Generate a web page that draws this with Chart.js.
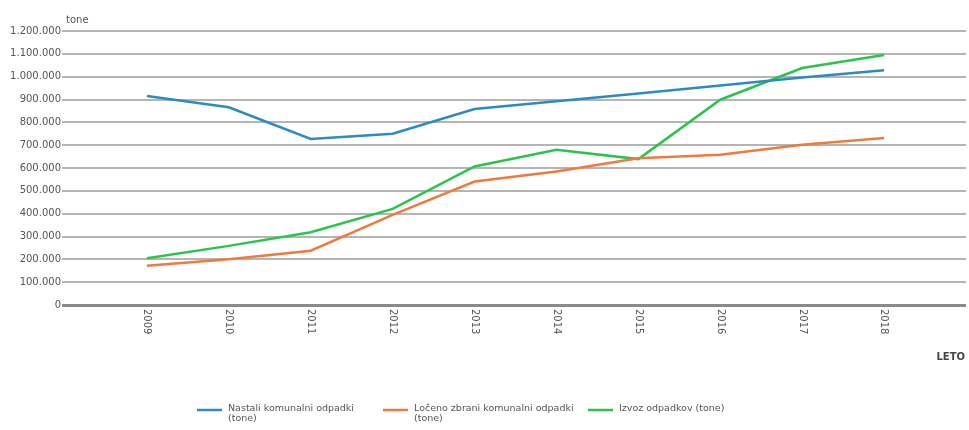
<!DOCTYPE html>
<html>
<head>
<meta charset="utf-8">
<script src="https://cdn.jsdelivr.net/npm/chart.js@4/dist/chart.umd.min.js"></script>
<style>
  html, body { margin: 0; padding: 0; background: #fff; }
  #wrap { width: 969px; height: 430px; }
</style>
</head>
<body>
<div id="wrap"><canvas id="c" width="969" height="430"></canvas></div>
<script>
// Years on the horizontal axis
const years = [2009, 2010, 2011, 2012, 2013, 2014, 2015, 2016, 2017, 2018];

// Municipal waste, tonnes per year
const nastali = [915000, 866000, 727000, 750000, 858000, 892000, 926000, 961000, 996000, 1028000];
const loceno  = [172000, 200000, 238000, 395000, 541000, 585000, 643000, 658000, 702000, 731000];
const izvoz   = [205000, 259000, 319000, 421000, 607000, 680000, 639000, 899000, 1038000, 1095000];

// Legend entries (multi-line)
const seriesNames = [
  ['Nastali komunalni odpadki', '(tone)'],
  ['Ločeno zbrani komunalni odpadki', '(tone)'],
  ['Izvoz odpadkov (tone)']
];
const seriesColors = ['#2b8cc4', '#ee7b3e', '#2cc34c'];

// Axis titles and y ticks
const yTitle = 'tone';
const xTitle = 'LETO';
const yTicks = [0, 100000, 200000, 300000, 400000, 500000, 600000, 700000, 800000, 900000, 1000000, 1100000, 1200000];

const FONT = '"DejaVu Sans", sans-serif';
const TEXT = '#555555';

function fmt(v) {
  return String(v).replace(/\B(?=(\d{3})+(?!\d))/g, '.');
}

const series = [nastali, loceno, izvoz];

const extras = {
  id: 'extras',
  afterDraw(chart) {
    const ctx = chart.ctx;
    const x = chart.scales.x;
    const y = chart.scales.y;
    ctx.save();

    // year labels, rotated to read top-to-bottom
    ctx.fillStyle = TEXT;
    ctx.font = '10px ' + FONT;
    ctx.textAlign = 'left';
    ctx.textBaseline = 'middle';
    years.forEach(yr => {
      const px = x.getPixelForValue(yr);
      ctx.save();
      ctx.translate(px, y.bottom + 4);
      ctx.rotate(Math.PI / 2);
      ctx.fillText(String(yr), 0, 0);
      ctx.restore();
    });

    // axis titles
    ctx.font = '10px ' + FONT;
    ctx.textAlign = 'left';
    ctx.textBaseline = 'middle';
    ctx.fillText(yTitle, y.right + 1, y.top - 11);
    ctx.font = 'bold 10px ' + FONT;
    ctx.textAlign = 'right';
    ctx.fillStyle = '#444';
    ctx.fillText(xTitle, 965, 357);

    // legend
    const legendX = [197, 383, 588];
    const legendY = 409;
    ctx.font = '9.5px ' + FONT;
    ctx.textAlign = 'left';
    ctx.textBaseline = 'middle';
    seriesNames.forEach((lines, i) => {
      const lx = legendX[i];
      ctx.strokeStyle = seriesColors[i];
      ctx.lineWidth = 2.5;
      ctx.beginPath();
      ctx.moveTo(lx, legendY + 1);
      ctx.lineTo(lx + 25, legendY + 1);
      ctx.stroke();
      ctx.fillStyle = TEXT;
      lines.forEach((ln, j) => {
        ctx.fillText(ln, lx + 31, legendY + j * 10);
      });
    });
    ctx.restore();
  }
};

new Chart(document.getElementById('c'), {
  type: 'line',
  data: {
    datasets: series.map((vals, i) => ({
      label: seriesNames[i].join(' '),
      data: years.map((yr, k) => ({ x: yr, y: vals[k] })),
      borderColor: seriesColors[i],
      backgroundColor: seriesColors[i],
      borderWidth: 2.5,
      pointRadius: 0,
      tension: 0,
      fill: false
    }))
  },
  options: {
    responsive: false,
    animation: false,
    devicePixelRatio: 1,
    layout: { padding: { top: 31, right: 3, left: 0, bottom: 0 } },
    plugins: {
      legend: { display: false },
      tooltip: { enabled: false }
    },
    scales: {
      x: {
        type: 'linear',
        min: years[0] - 1,
        max: years[years.length - 1] + 1,
        grid: { display: false },
        border: { display: false },
        ticks: { display: false },
        afterFit(scale) { scale.height = 125; }
      },
      y: {
        min: 0,
        max: 1200000,
        afterBuildTicks(scale) { scale.ticks = yTicks.map(v => ({ value: v })); },
        afterFit(scale) { scale.width = 65; },
        border: { display: false },
        grid: {
          color: ctx => ctx.tick && ctx.tick.value === 0 ? '#8a8a8a' : '#b5b5b5',
          lineWidth: ctx => ctx.tick && ctx.tick.value === 0 ? 3 : 2,
          tickLength: 3,
          drawTicks: true
        },
        ticks: {
          padding: 1,
          color: TEXT,
          font: { family: FONT, size: 10 },
          callback: v => fmt(v)
        }
      }
    }
  },
  plugins: [extras]
});
</script>
</body>
</html>
